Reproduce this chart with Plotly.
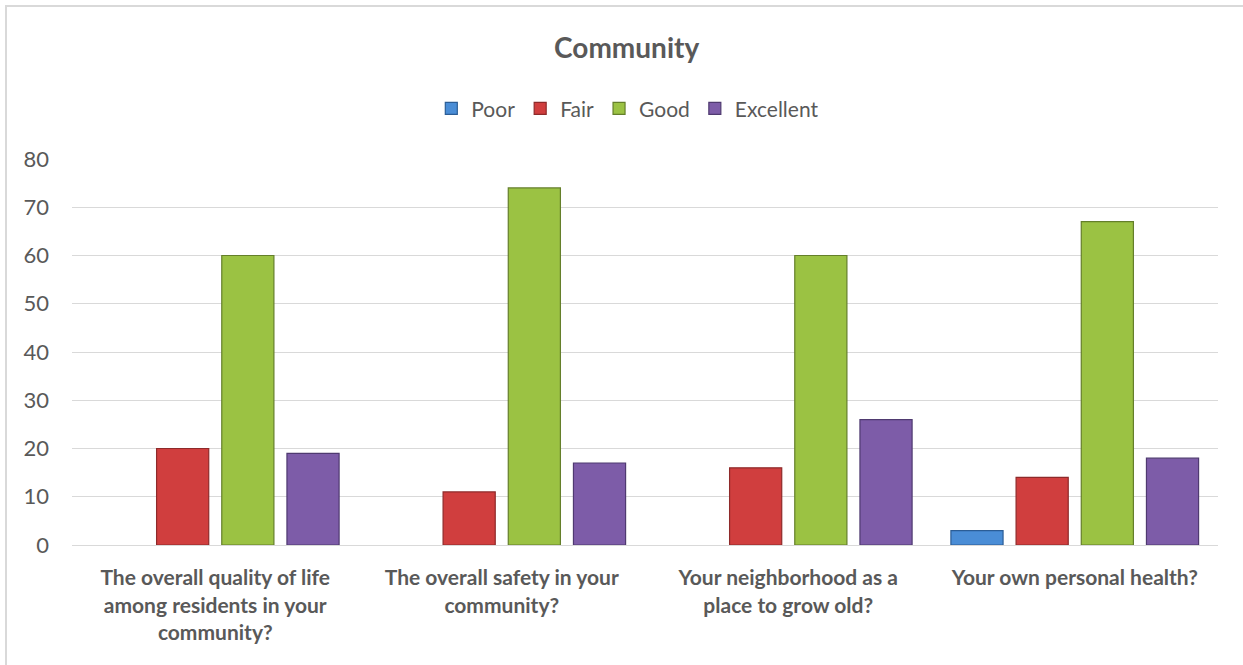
import plotly.graph_objects as go

categories = [
    "The overall quality of life<br>among residents in your<br>community?",
    "The overall safety in your<br>community?",
    "Your neighborhood as a<br>place to grow old?",
    "Your own personal health?",
]
series_names = ["Poor", "Fair", "Good", "Excellent"]
poor = [0, 0, 0, 3]
fair = [20, 11, 16, 14]
good = [60, 74, 60, 67]
excellent = [19, 17, 26, 18]
y_ticks = [0, 10, 20, 30, 40, 50, 60, 70, 80]

fills = ["#4A8DD6", "#D03E3E", "#9BC243", "#7D5CA8"]
edges = ["#2B5D96", "#8E2A2A", "#647F2A", "#4F3A70"]

FONT = "Lato"
TEXT = "#595959"

fig = go.Figure()
for name, vals, fc, ec in zip(series_names, [poor, fair, good, excellent], fills, edges):
    # points are fed last-to-first (axis order is fixed below) so the legend
    # swatch takes its outline from a non-zero bar; zero bars get no outline
    xs = categories[::-1]
    ys = vals[::-1]
    fig.add_trace(go.Bar(
        name=name, x=xs, y=ys,
        marker=dict(color=fc,
                    line=dict(color=[ec if v else "rgba(0,0,0,0)" for v in ys],
                              width=1.2)),
        hovertemplate="%{y}<extra>" + name + "</extra>",
    ))

fig.update_layout(
    width=1243, height=665,
    paper_bgcolor="white", plot_bgcolor="white",
    margin=dict(l=72, r=25, t=159, b=120),
    barmode="group", bargap=0.09, bargroupgap=0.2,
    font=dict(family=FONT, color=TEXT),
    title=dict(text="<b>Community</b>", x=0.484, xanchor="center", xref="paper",
               y=0.928, yanchor="middle", font=dict(size=28, color=TEXT, family=FONT)),
    legend=dict(orientation="h", x=0.485, xanchor="center", y=1.13, yanchor="middle",
                font=dict(size=21, color=TEXT, family=FONT), itemwidth=30,
                traceorder="normal"),
    showlegend=True,
)
fig.update_yaxes(range=[0, 80], tickvals=y_ticks, showgrid=True, gridcolor="#D9D9D9",
                 gridwidth=1, zeroline=False, showline=False, ticks="",
                 tickfont=dict(size=22, color=TEXT, family=FONT), ticklabelstandoff=22)
fig.update_xaxes(showline=True, linecolor="#D9D9D9", linewidth=1, ticks="",
                 tickfont=dict(size=21, color=TEXT, family=FONT), tickangle=0,
                 ticklabelstandoff=14, categoryorder="array", categoryarray=categories)
fig.update_xaxes(tickvals=categories, ticktext=["<b>" + c + "</b>" for c in categories])

# outer chart frame
fig.add_shape(type="rect", xref="paper", yref="paper",
              x0=-66 / 1146, x1=1.2, y0=-0.5, y1=1 + 153 / 386,
              line=dict(color="#D9D9D9", width=2), fillcolor="rgba(0,0,0,0)", layer="below")

fig.write_html("out.html")
